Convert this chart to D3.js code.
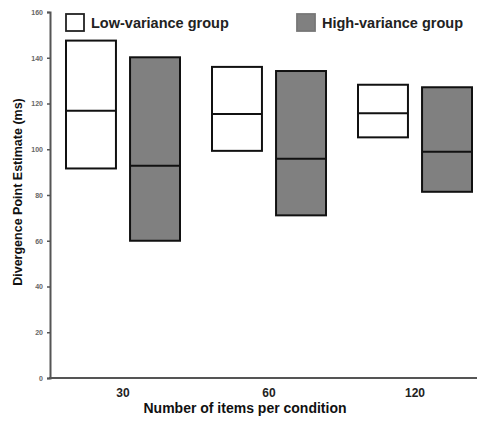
<!DOCTYPE html>
<html>
<head>
<meta charset="utf-8">
<script src="https://cdn.jsdelivr.net/npm/d3@7"></script>
<style>
  html, body { margin: 0; padding: 0; background: #fff; }
  svg { display: block; }
  text { font-family: "Liberation Sans", Arial, sans-serif; }
</style>
</head>
<body>
<svg id="chart" width="477" height="424"></svg>
<script>
const categories = ["30", "60", "120"];
const groups = ["Low-variance group", "High-variance group"];
const lowTop    = [147.5, 136.0, 128.2];
const lowMid    = [116.8, 115.4, 115.7];
const lowBottom = [91.6, 99.3, 105.2];
const highTop    = [140.2, 134.2, 127.1];
const highMid    = [92.8, 95.8, 98.9];
const highBottom = [60.0, 71.1, 81.4];
const yTicks = [0, 20, 40, 60, 80, 100, 120, 140, 160];
const fills = ["#ffffff", "#808080"];

const svg = d3.select("#chart");
const x0 = 50, yBase = 378, yTopPx = 12;

const y = d3.scaleLinear().domain([0, 160]).range([yBase, yTopPx]);
const x = d3.scaleBand().domain(categories).range([x0, 488]).paddingInner(0).paddingOuter(0);
const xg = d3.scaleBand().domain(groups).range([-57, 57]).paddingInner(0.22);

const data = [];
categories.forEach((c, i) => {
  data.push({cat: c, g: groups[0], top: lowTop[i], mid: lowMid[i], bot: lowBottom[i]});
  data.push({cat: c, g: groups[1], top: highTop[i], mid: highMid[i], bot: highBottom[i]});
});

// y axis
const yAxis = d3.axisLeft(y).tickValues(yTicks).tickSize(3).tickPadding(4);
const ya = svg.append("g").attr("transform", `translate(${x0},0)`).call(yAxis);
ya.select(".domain").attr("stroke", "#555").attr("stroke-width", 2);
ya.selectAll(".tick line").attr("stroke", "#555").attr("stroke-width", 1.5);
ya.selectAll(".tick text").attr("fill", "#666").style("font-size", "7px").style("font-weight", "bold");

// x axis
svg.append("line")
  .attr("x1", x0 - 1).attr("x2", 477)
  .attr("y1", yBase).attr("y2", yBase)
  .attr("stroke", "#555").attr("stroke-width", 2);

const xAxis = d3.axisBottom(x).tickSize(0).tickPadding(10);
const xa = svg.append("g").attr("transform", `translate(0,${yBase})`).call(xAxis);
xa.select(".domain").remove();
xa.selectAll(".tick text").attr("fill", "#222").style("font-size", "12px").style("font-weight", "bold");

// boxes
const boxes = svg.append("g");
data.forEach(d => {
  const bx = x(d.cat) + x.bandwidth() / 2 + xg(d.g);
  const fill = d.g === groups[0] ? fills[0] : fills[1];
  boxes.append("rect")
    .attr("x", bx).attr("y", y(d.top))
    .attr("width", xg.bandwidth()).attr("height", y(d.bot) - y(d.top))
    .attr("fill", fill).attr("stroke", "#111").attr("stroke-width", 2);
  boxes.append("line")
    .attr("x1", bx).attr("x2", bx + xg.bandwidth())
    .attr("y1", y(d.mid)).attr("y2", y(d.mid))
    .attr("stroke", "#111").attr("stroke-width", 2);
});

// legend
const leg = [
  {label: groups[0], fill: fills[0], bx: 66, tx: 91},
  {label: groups[1], fill: fills[1], bx: 297, tx: 322}
];
leg.forEach(l => {
  svg.append("rect").attr("x", l.bx).attr("y", 14).attr("width", 18).attr("height", 17)
    .attr("fill", l.fill).attr("stroke", l.fill === "#ffffff" ? "#222" : "#777").attr("stroke-width", 1.8);
  svg.append("text").attr("x", l.tx).attr("y", 28)
    .attr("fill", "#222").style("font-size", "14.5px").style("font-weight", "bold")
    .text(l.label);
});

// axis titles
svg.append("text")
  .attr("x", 245).attr("y", 413).attr("text-anchor", "middle")
  .attr("fill", "#111").style("font-size", "14px").style("font-weight", "bold")
  .text("Number of items per condition");

svg.append("text")
  .attr("transform", "translate(22,192) rotate(-90)")
  .attr("text-anchor", "middle")
  .attr("fill", "#111").style("font-size", "12.5px").style("font-weight", "bold")
  .text("Divergence Point Estimate (ms)");
</script>
</body>
</html>
